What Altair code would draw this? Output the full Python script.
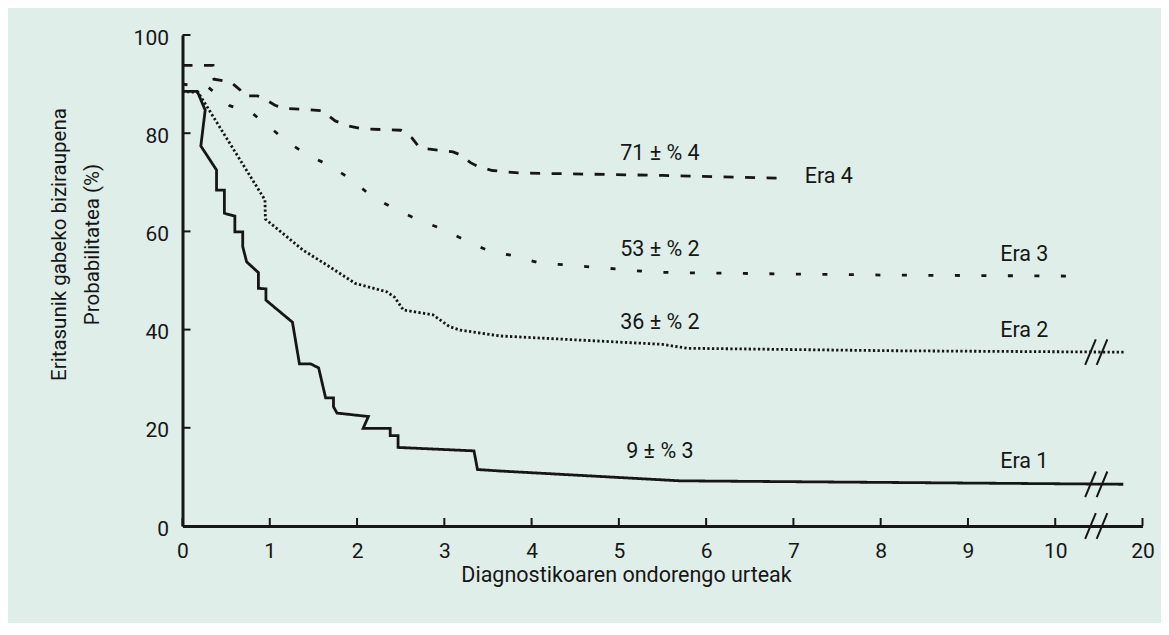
import altair as alt
import pandas as pd

# ---- data (x in display units: 0..10 years linear, 11 == 20 years after the axis break)
era1_t = [0, 0.17, 0.26, 0.21, 0.39, 0.39, 0.48, 0.48, 0.60, 0.60, 0.69, 0.69, 0.735, 0.87, 0.87,
          0.956, 0.956, 1.26, 1.34, 1.47, 1.56, 1.64, 1.73, 1.73, 1.77, 2.13, 2.07, 2.38, 2.38,
          2.47, 2.47, 3.34, 3.38, 3.64, 5.7, 10.78]
era1_s = [88.5, 88.5, 84.7, 77.4, 72.5, 68.4, 68.4, 63.7, 63.1, 59.9, 59.9, 56.9, 53.8, 51.6, 48.4,
          48.3, 46.0, 41.5, 33.0, 33.0, 32.2, 26.1, 26.1, 24.3, 23.0, 22.3, 19.9, 19.9, 18.4,
          18.4, 16.0, 15.3, 11.5, 11.2, 9.2, 8.5]

era2_t = [0, 0.18, 0.945, 0.95, 1.08, 1.38, 1.65, 1.98, 2.34, 2.43, 2.53, 2.87, 3.06, 3.18, 3.64,
          5.5, 5.78, 8.1, 10.8]
era2_s = [88.5, 88.3, 66.4, 62.5, 60.6, 56.2, 53.2, 49.4, 47.7, 46.6, 44.0, 43.0, 40.6, 39.9, 38.7,
          37.0, 36.2, 35.7, 35.4]

era3_t = [0, 0.3, 0.54, 0.79, 0.98, 1.21, 1.45, 1.70, 1.94, 2.17, 2.42, 2.68, 2.96, 3.24, 3.51,
          3.81, 4.1, 4.4, 4.71, 5.01, 5.32, 5.62, 8.07, 10.22]
era3_s = [90.0, 89.3, 85.6, 84.2, 81.5, 78.1, 75.4, 73.3, 70.5, 67.1, 64.7, 62.5, 60.6, 58.2, 56.0,
          55.0, 53.5, 53.2, 52.7, 52.3, 51.8, 51.6, 51.1, 50.9]

era4_t = [0, 0.35, 0.36, 0.5, 0.56, 0.66, 0.7, 0.86, 0.92, 1.06, 1.15, 1.6, 1.75, 1.9, 2.05, 2.5,
          2.63, 2.72, 3.1, 3.18, 3.3, 3.4, 3.55, 3.85, 5.5, 6.92]
era4_s = [93.8, 93.8, 91.0, 90.6, 90.3, 88.8, 87.6, 87.6, 87.2, 85.7, 85.1, 84.6, 82.5, 81.5, 80.9,
          80.6, 79.0, 77.0, 76.2, 75.6, 74.0, 73.1, 72.4, 71.9, 71.4, 70.8]

eras = ["Era 1", "Era 2", "Era 3", "Era 4"]

stat_labels = ["71 ± % 4", "53 ± % 2", "36 ± % 2", "9 ± % 3"]
stat_t = [5.47, 5.47, 5.47, 5.47]
stat_s = [75.8, 56.2, 41.4, 15.1]

era_labels = ["Era 4", "Era 3", "Era 2", "Era 1"]
era_lab_t = [7.13, 9.37, 9.37, 9.37]
era_lab_s = [71.1, 55.2, 39.7, 13.1]

x_tick_values = [0, 1, 2, 3, 4, 5, 6, 7, 8, 9, 10, 11]
x_tick_labels = ["0", "1", "2", "3", "4", "5", "6", "7", "8", "9", "10", "20"]
y_tick_values = [0, 20, 40, 60, 80, 100]

break_t = 10.47
break_s = [0, 8.5, 35.4]

# ---- tables
rows = []
for era, ts, ss in zip(eras, [era1_t, era2_t, era3_t, era4_t], [era1_s, era2_s, era3_s, era4_s]):
    for i, (t, s) in enumerate(zip(ts, ss)):
        rows.append({"era": era, "t": t, "s": s, "o": i})
curves = pd.DataFrame(rows)

stats = pd.DataFrame({"label": stat_labels, "t": stat_t, "s": stat_s})
elabs = pd.DataFrame({"label": era_labels, "t": era_lab_t, "s": era_lab_s})
xt = pd.DataFrame({"t": x_tick_values})
yt = pd.DataFrame({"s": y_tick_values})

half_gap, half_w, half_h = 0.066, 0.061, 2.6
brk = []
for s in break_s:
    for c in (break_t - half_gap, break_t + half_gap):
        brk.append({"t": c - half_w, "t2": c + half_w, "s": s - half_h, "s2": s + half_h})
breaks = pd.DataFrame(brk)

FONT = "Roboto"
INK = "#161616"
BG = "#e0eeea"

label_expr = "{" + ",".join(f"'{v}':'{l}'" for v, l in zip(x_tick_values, x_tick_labels)) + "}[datum.value]"

xs = alt.Scale(domain=[0, 11], nice=False, zero=False)
ys = alt.Scale(domain=[0, 100], nice=False, zero=False)

x_axis = alt.Axis(values=x_tick_values, labelExpr=label_expr, grid=False, ticks=False,
                  domainColor=INK, domainWidth=3, labelPadding=14, labelFontSize=21,
                  labelFont=FONT, labelColor=INK, title="Diagnostikoaren ondorengo urteak",
                  titleFont=FONT, titleFontSize=21.5, titleFontWeight="normal", titleColor=INK,
                  titleX=443.5, titleY=55, titleBaseline="alphabetic", titleAnchor="start",
                  titleAlign="center", labelFlush=False)
y_axis = alt.Axis(values=y_tick_values, grid=False, ticks=False, domainColor=INK, domainWidth=3,
                  labelPadding=14, labelFontSize=21, labelFont=FONT, labelColor=INK,
                  labelOffset=3,
                  title=["Eritasunik gabeko biziraupena", "Probabilitatea (%)"],
                  titleFont=FONT, titleFontSize=20.5, titleFontWeight="normal", titleColor=INK,
                  titleAngle=270, titleX=-117, titleY=209, titleAlign="center",
                  titleBaseline="alphabetic", titleLineHeight=33, labelFlush=False)

X = alt.X("t:Q", scale=xs, axis=x_axis)
Y = alt.Y("s:Q", scale=ys, axis=y_axis)

lines = alt.Chart(curves).mark_line(strokeWidth=2.8, strokeCap="butt", strokeJoin="miter",
                                    color=INK).encode(
    x=X, y=Y, order="o:Q",
    detail="era:N",
    strokeDash=alt.StrokeDash("era:N", legend=None,
                              scale=alt.Scale(domain=eras,
                                              range=[[1, 0], [2.3, 2.3], [5, 21.5], [10, 11.5]])),
)

stat_text = alt.Chart(stats).mark_text(font=FONT, fontSize=21.5, color=INK, align="center",
                                       baseline="middle").encode(x=X, y=Y, text="label:N")
era_text = alt.Chart(elabs).mark_text(font=FONT, fontSize=21.5, color=INK, align="left",
                                      baseline="middle").encode(x=X, y=Y, text="label:N")

x_ticks = alt.Chart(xt).mark_rule(strokeWidth=2, color=INK).encode(
    x=X, y=alt.value(491), y2=alt.value(483))
y_ticks = alt.Chart(yt).mark_rule(strokeWidth=2, color=INK).encode(
    y=Y, x=alt.value(0), x2=alt.value(8))

break_marks = alt.Chart(breaks).mark_rule(strokeWidth=2, color=INK).encode(
    x=X, x2="t2:Q", y=alt.Y("s:Q", scale=ys, axis=y_axis), y2="s2:Q")

chart = alt.layer(lines, x_ticks, y_ticks, break_marks, stat_text, era_text).properties(
    width=960, height=491,
    autosize=alt.AutoSizeParams(type="none"),
    padding={"left": 174.5, "top": 27, "right": 18.5, "bottom": 97},
    background=BG,
).configure_view(stroke=None)

chart.save("out.html", embed_options={"renderer": "svg", "actions": False})
